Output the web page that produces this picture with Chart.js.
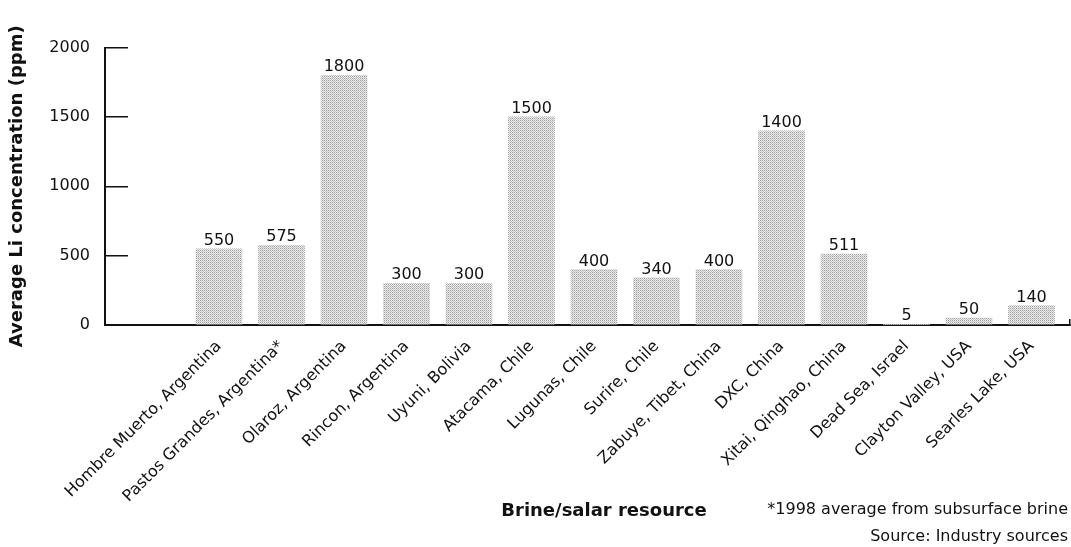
<!DOCTYPE html>
<html>
<head>
<meta charset="utf-8">
<script src="https://cdn.jsdelivr.net/npm/chart.js@4/dist/chart.umd.min.js"></script>
<style>
  html, body { margin: 0; padding: 0; background: #fff; }
  #wrap { width: 1071px; height: 547px; }
</style>
</head>
<body>
<div id="wrap"><canvas id="chart" width="1071" height="547"></canvas></div>
<script>
var categories = [
    'Hombre Muerto, Argentina', 'Pastos Grandes, Argentina*', 'Olaroz, Argentina',
    'Rincon, Argentina', 'Uyuni, Bolivia', 'Atacama, Chile', 'Lugunas, Chile',
    'Surire, Chile', 'Zabuye, Tibet, China', 'DXC, China', 'Xitai, Qinghao, China',
    'Dead Sea, Israel', 'Clayton Valley, USA', 'Searles Lake, USA'
];
var liPpm = [550, 575, 1800, 300, 300, 1500, 400, 340, 400, 1400, 511, 5, 50, 140];
var yTicks = [0, 500, 1000, 1500, 2000];
var xTitle = 'Brine/salar resource';
var footnotes = ['*1998 average from subsurface brine', 'Source: Industry sources'];

// stippled grey fill like the printed bars
function stipple() {
    var c = document.createElement('canvas');
    c.width = 2; c.height = 2;
    var g = c.getContext('2d');
    g.fillStyle = '#ececec'; g.fillRect(0, 0, 2, 2);
    g.fillStyle = '#a0a0a0'; g.fillRect(0, 0, 1, 1);
    g.fillStyle = '#c4c4c4'; g.fillRect(1, 1, 1, 1);
    return g.createPattern(c, 'repeat');
}

var FONT = "'DejaVu Sans', sans-serif";

const valueLabels = {
    id: 'valueLabels',
    afterDatasetsDraw(chart) {
        const ctx = chart.ctx;
        const meta = chart.getDatasetMeta(0);
        ctx.save();
        ctx.font = '16px ' + FONT;
        ctx.fillStyle = '#111';
        ctx.textAlign = 'center';
        ctx.textBaseline = 'alphabetic';
        meta.data.forEach(function (bar, i) {
            ctx.fillText(String(liPpm[i]), bar.x, bar.y - 4);
        });
        ctx.restore();
    }
};

// axis title sits a bit right of centre, footnotes flush right on the same rows
const notes = {
    id: 'notes',
    afterDraw(chart) {
        const ctx = chart.ctx;
        ctx.save();
        ctx.fillStyle = '#111';
        ctx.textBaseline = 'middle';
        ctx.font = 'bold 18px ' + FONT;
        ctx.textAlign = 'center';
        ctx.fillText(xTitle, 604, 511);
        ctx.font = '16px ' + FONT;
        ctx.textAlign = 'right';
        ctx.fillText(footnotes[0], chart.width - 3, 510);
        ctx.fillText(footnotes[1], chart.width - 3, 537);
        ctx.restore();
    }
};

var ctx = document.getElementById('chart').getContext('2d');
var chart = new Chart(ctx, {
    type: 'bar',
    data: {
        datasets: [{
            data: liPpm.map(function (v, i) { return {x: i, y: v}; }),
            backgroundColor: stipple(),
            borderWidth: 0,
            barThickness: 46
        }]
    },
    options: {
        responsive: false,
        animation: false,
        layout: { padding: { top: 15, right: 1, bottom: 0, left: 0 } },
        plugins: { legend: { display: false }, tooltip: { enabled: false } },
        scales: {
            x: {
                type: 'linear',
                offset: false,
                min: -1.824,
                max: 13.616,
                afterBuildTicks: function (scale) {
                    scale.ticks = categories.map(function (c, i) { return {value: i}; })
                        .concat([{value: scale.max}]);
                },
                afterFit: function (scale) {
                    scale.height = 222;
                    scale.paddingLeft = 0;
                    scale.paddingRight = 0;
                },
                border: { display: true, color: '#111', width: 2 },
                grid: {
                    offset: false,
                    drawOnChartArea: false,
                    tickLength: -6,
                    lineWidth: 1.5,
                    color: function (c) { return c.index === categories.length ? '#111' : 'rgba(0,0,0,0)'; }
                },
                ticks: {
                    autoSkip: false,
                    minRotation: 45,
                    maxRotation: 45,
                    padding: 18,
                    color: '#111',
                    font: { family: FONT, size: 16 },
                    callback: function (v, i) { return categories[i] !== undefined ? categories[i] : ''; }
                }
            },
            y: {
                min: 0,
                max: 2000,
                afterBuildTicks: function (scale) {
                    scale.ticks = yTicks.map(function (v) { return {value: v}; });
                },
                afterFit: function (scale) { scale.width = 105; },
                border: { display: true, color: '#111', width: 2 },
                grid: {
                    drawOnChartArea: false,
                    tickLength: -23,
                    lineWidth: 1.5,
                    color: '#111'
                },
                ticks: {
                    padding: 38,
                    color: '#111',
                    font: { family: FONT, size: 16 },
                    callback: function (v) { return String(v); }
                },
                title: {
                    display: true,
                    text: 'Average Li concentration (ppm)',
                    color: '#111',
                    font: { family: FONT, size: 18, weight: 'bold' },
                    padding: { top: 7, bottom: 0 }
                }
            }
        }
    },
    plugins: [valueLabels, notes]
});
</script>
</body>
</html>
